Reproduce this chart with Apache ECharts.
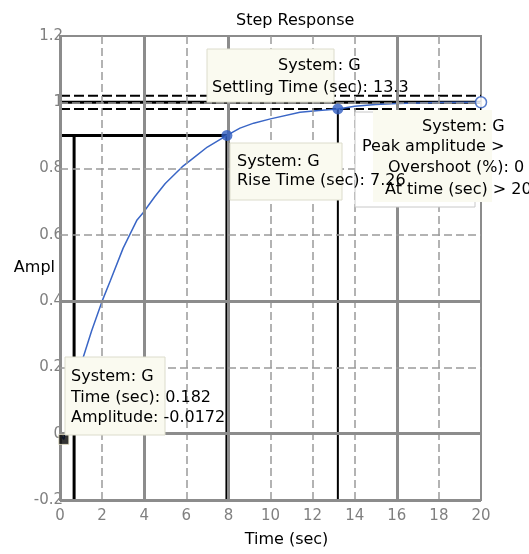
<!DOCTYPE html>
<html>
<head>
<meta charset="utf-8">
<script src="https://cdn.jsdelivr.net/npm/echarts@6/dist/echarts.min.js"></script>
<style>
  html, body { margin: 0; padding: 0; background: #fff; }
  #chart { width: 529px; height: 554px; }
</style>
</head>
<body>
<div id="chart"></div>
<script>
// step response samples
var timeSec = [0, 0.182, 0.5, 0.8, 1.1, 1.5, 2, 2.4, 3, 3.66, 3.94, 4.5, 5, 5.8, 6.3, 7, 7.93, 8.55, 9.2, 10, 11.4, 12.3, 13.2, 14, 15, 16, 18, 20];
var amplitude = [0, -0.0172, 0.07, 0.16, 0.23, 0.31, 0.40, 0.463, 0.56, 0.645, 0.666, 0.715, 0.755, 0.805, 0.83, 0.865, 0.9, 0.922, 0.937, 0.95, 0.97, 0.975, 0.98, 0.988, 0.993, 0.996, 0.999, 1.0];

// characteristic points
var risePoint = [7.93, 0.9];
var riseStart = 0.67;
var settlePoint = [13.2, 0.98];
var peakPoint = [20, 1.0];
var pickedPoint = [0.182, -0.0172];
var settleBand = [1.02, 1.0, 0.98];

// grid lines (solid / dashed, as drawn in the picture)
var solidX = [0, 4, 8, 16];
var dashedX = [2, 6, 10, 12, 14, 18];
var solidY = [-0.2, 0, 0.4];
var dashedY = [0.2, 0.6, 0.8, 1.0];

var font = 'DejaVu Sans';
var chart = echarts.init(document.getElementById('chart'));

function gridMark(list, key, solid) {
  return list.map(function (v) {
    var o = { lineStyle: solid ? { type: 'solid', width: 3, color: '#8c8c8c' } : { type: [8, 4], width: 1.5, color: '#9a9a9a' } };
    o[key] = v;
    return o;
  });
}

function blackLine(data, width, type) {
  return {
    type: 'line', data: data, symbol: 'none', silent: true, z: 3,
    lineStyle: { color: '#000', width: width, type: type || 'solid' }
  };
}

// datatip boxes (pixels)
var boxes = [
  { x: 207, y: 49, w: 127, h: 53, fill: '#fafaf0', stroke: '#dcdccc' },
  { x: 230, y: 143, w: 112, h: 57, fill: '#fafaf0', stroke: '#dcdccc' },
  { x: 355, y: 112, w: 120, h: 95, fill: '#ffffff', stroke: '#c8c8c8' },
  { x: 373, y: 110, w: 119, h: 92, fill: '#fafaf0', stroke: 'rgba(0,0,0,0)' },
  { x: 65, y: 357, w: 100, h: 78, fill: '#fafaf0', stroke: '#dcdccc' }
];
var tipTexts = [
  { t: 'System: G', x: 278, y: 66 },
  { t: 'Settling Time (sec): 13.3', x: 212, y: 88 },
  { t: 'System: G', x: 237, y: 162 },
  { t: 'Rise Time (sec): 7.26', x: 237, y: 181 },
  { t: 'System: G', x: 422, y: 127 },
  { t: 'Peak amplitude >', x: 362, y: 147 },
  { t: 'Overshoot (%): 0', x: 388, y: 168 },
  { t: 'At time (sec) > 20', x: 385, y: 190 },
  { t: 'System: G', x: 71, y: 377 },
  { t: 'Time (sec): 0.182', x: 71, y: 398 },
  { t: 'Amplitude: -0.0172', x: 71, y: 418 }
];

var graphics = [];
boxes.forEach(function (b) {
  graphics.push({ type: 'rect', z: 100, silent: true,
    shape: { x: b.x, y: b.y, width: b.w, height: b.h },
    style: { fill: b.fill, stroke: b.stroke, lineWidth: 1 } });
});
tipTexts.forEach(function (s) {
  graphics.push({ type: 'text', z: 101, silent: true, x: s.x, y: s.y,
    style: { text: s.t, font: '16px "' + font + '"', fill: '#000', verticalAlign: 'middle' } });
});

var curve = timeSec.map(function (t, i) { return [t, amplitude[i]]; });

chart.setOption({
  animation: false,
  title: {
    text: 'Step Response', left: 231, top: 8,
    textStyle: { fontFamily: font, fontSize: 16, fontWeight: 'normal', color: '#000' }
  },
  grid: {
    left: 60, right: 48, top: 36, bottom: 54, containLabel: false, outerBoundsMode: 'none',
    show: true, borderColor: '#8c8c8c', borderWidth: 2, backgroundColor: 'transparent'
  },
  xAxis: {
    type: 'value', min: 0, max: 20, interval: 2,
    name: 'Time (sec)', nameLocation: 'middle', nameGap: 32, nameMoveOverlap: false,
    nameTextStyle: { fontFamily: font, fontSize: 16, color: '#000', padding: [0, 0, 0, 32] },
    axisLine: { show: false }, axisTick: { show: false }, splitLine: { show: false },
    axisLabel: { fontFamily: font, fontSize: 15, color: '#808080', margin: 9 }
  },
  yAxis: {
    type: 'value', min: -0.2, max: 1.2, interval: 0.2,
    name: 'Ampl', nameLocation: 'middle', nameRotate: 0, nameGap: 5, nameMoveOverlap: false,
    nameTextStyle: { fontFamily: font, fontSize: 16, color: '#000' },
    axisLine: { show: false }, axisTick: { show: false }, splitLine: { show: false },
    axisLabel: { fontFamily: font, fontSize: 15, color: '#808080', margin: -3 }
  },
  graphic: graphics,
  series: [
    {
      type: 'line', data: [], silent: true, z: 1,
      markLine: {
        silent: true, symbol: ['none', 'none'], label: { show: false }, animation: false,
        data: gridMark(solidX, 'xAxis', true).concat(gridMark(dashedX, 'xAxis', false),
          gridMark(solidY, 'yAxis', true), gridMark(dashedY, 'yAxis', false))
      }
    },
    blackLine([[0, risePoint[1]], risePoint], 3),
    blackLine([[riseStart, risePoint[1]], [riseStart, -0.2]], 3),
    blackLine([risePoint, [risePoint[0], -0.2]], 3),
    blackLine([settlePoint, [settlePoint[0], -0.2]], 2),
    blackLine([[0, settleBand[0]], [20, settleBand[0]]], 2, [10, 4]),
    blackLine([[0, settleBand[1]], [20, settleBand[1]]], 3),
    blackLine([[0, settleBand[2]], [20, settleBand[2]]], 2, [10, 4]),
    {
      type: 'line', data: curve, symbol: 'none', silent: true, z: 4,
      lineStyle: { color: '#3a66c6', width: 1.5 }
    },
    {
      type: 'scatter', data: [risePoint, settlePoint], symbol: 'circle', symbolSize: 11, z: 5, silent: true,
      itemStyle: { color: '#2f5dc0' }
    },
    {
      type: 'scatter', data: [peakPoint], symbol: 'circle', symbolSize: 11, z: 5, silent: true,
      itemStyle: { color: '#fff', borderColor: '#2f5dc0', borderWidth: 1.5 }
    },
    {
      type: 'scatter', data: [pickedPoint], symbol: 'rect', symbolSize: 10, z: 5, silent: true,
      itemStyle: { color: '#000', borderColor: '#e8e4c8', borderWidth: 1 }
    }
  ]
});
</script>
</body>
</html>
